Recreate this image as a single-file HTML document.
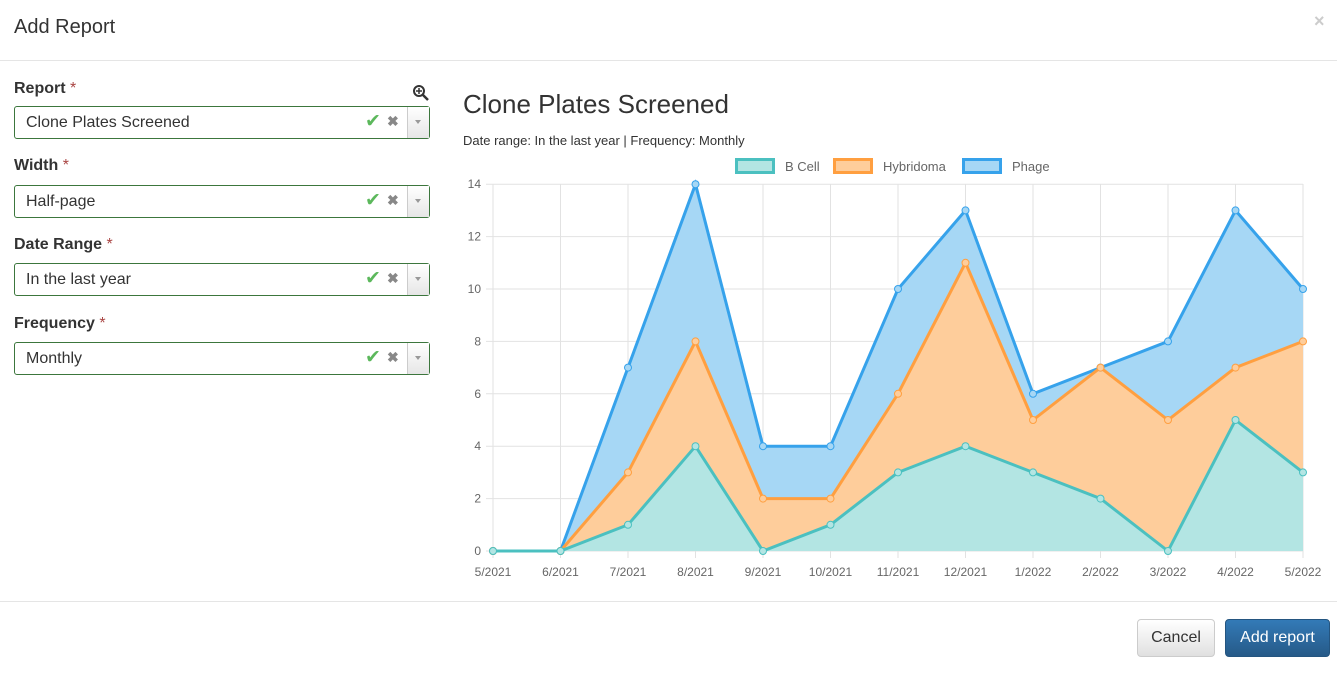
<!DOCTYPE html>
<html><head><meta charset="utf-8"><style>
body{margin:0;width:1337px;height:674px;background:#fff;font-family:"Liberation Sans",sans-serif;color:#333;position:relative;overflow:hidden}
.abs{position:absolute}
.lbl{font-weight:bold;font-size:16px;color:#333}
.lbl span{color:#a94442;font-weight:normal}
.sel{position:absolute;left:14px;width:414px;height:31px;border:1px solid #3c763d;border-radius:3px;background:#fff;font-size:16px}
.sel .t{position:absolute;left:11px;top:7px;color:#333}
.sel .ck{position:absolute;left:350px;top:3px;color:#5cb85c;font-size:19px}
.sel .x{position:absolute;left:372px;top:6px;color:#888;font-size:14px;font-weight:bold}
.sel .dd{position:absolute;right:0;top:0;width:21px;height:31px;border-left:1px solid #ccc;background:linear-gradient(#fff,#e6e6e6)}
.sel .dd:after{content:"";position:absolute;left:7px;top:13px;border-left:3px solid transparent;border-right:3px solid transparent;border-top:4px solid #999}
</style></head><body>
<div class="abs" style="left:14px;top:16px;font-size:20px;color:#333">Add Report</div>
<div class="abs" style="left:1314px;top:11px;font-size:18px;color:#ccc;font-weight:bold">×</div>
<div class="abs" style="left:0;top:60px;width:1337px;height:1px;background:#e5e5e5"></div>

<div class="abs lbl" style="left:14px;top:80px">Report <span>*</span></div>
<svg class="abs" style="left:412px;top:84px" width="18" height="18"><circle cx="7" cy="7" r="5" fill="none" stroke="#333" stroke-width="2"/><line x1="11" y1="11" x2="16" y2="16" stroke="#333" stroke-width="2.5"/><line x1="4" y1="7" x2="10" y2="7" stroke="#333" stroke-width="1.5"/><line x1="7" y1="4" x2="7" y2="10" stroke="#333" stroke-width="1.5"/></svg>
<div class="sel" style="top:106px"><div class="t">Clone Plates Screened</div><div class="ck">✔</div><div class="x">✖</div><div class="dd"></div></div>
<div class="abs lbl" style="left:14px;top:157px">Width <span>*</span></div>
<div class="sel" style="top:185px"><div class="t">Half-page</div><div class="ck">✔</div><div class="x">✖</div><div class="dd"></div></div>
<div class="abs lbl" style="left:14px;top:236px">Date Range <span>*</span></div>
<div class="sel" style="top:263px"><div class="t">In the last year</div><div class="ck">✔</div><div class="x">✖</div><div class="dd"></div></div>
<div class="abs lbl" style="left:14px;top:315px">Frequency <span>*</span></div>
<div class="sel" style="top:342px"><div class="t">Monthly</div><div class="ck">✔</div><div class="x">✖</div><div class="dd"></div></div>

<div class="abs" style="left:463px;top:89px;font-size:26px;color:#333">Clone Plates Screened</div>
<div class="abs" style="left:463px;top:133px;font-size:13px;color:#333">Date range: In the last year | Frequency: Monthly</div>

<svg id="ch" class="abs" style="left:0;top:0" width="1337" height="600"></svg>

<div class="abs" style="left:0;top:601px;width:1337px;height:1px;background:#e5e5e5"></div>
<div class="abs" style="left:1137px;top:619px;width:76px;height:36px;border:1px solid #ccc;border-radius:4px;background:linear-gradient(#fff,#e0e0e0);font-size:16px;text-align:center;line-height:36px;color:#333">Cancel</div>
<div class="abs" style="left:1225px;top:619px;width:103px;height:36px;border:1px solid #245580;border-radius:4px;background:linear-gradient(#337ab7,#265a88);font-size:16px;text-align:center;line-height:36px;color:#fff">Add report</div>

<script>
var s='',X=i=>493+i*67.5,Y=v=>551-v*26.2;
for(var v=0;v<=14;v+=2){s+=`<line x1="486" x2="1303" y1="${Y(v)}" y2="${Y(v)}" stroke="#e2e2e2"/><text x="481" y="${Y(v)+4}" font-size="12" text-anchor="end" fill="#666" font-family="Liberation Sans">${v}</text>`;}
var lab=["5/2021","6/2021","7/2021","8/2021","9/2021","10/2021","11/2021","12/2021","1/2022","2/2022","3/2022","4/2022","5/2022"];
for(var i=0;i<13;i++){s+=`<line x1="${X(i)}" x2="${X(i)}" y1="184" y2="558" stroke="#e2e2e2"/><text x="${X(i)}" y="576" font-size="12" text-anchor="middle" fill="#666" font-family="Liberation Sans">${lab[i]}</text>`;}
var b=[0,0,1,4,0,1,3,4,3,2,0,5,3],h=[0,0,3,8,2,2,6,11,5,7,5,7,8],p=[0,0,7,14,4,4,10,13,6,7,8,13,10];
function pts(a){return a.map((v,i)=>X(i)+','+Y(v)).join(' ');}
function rev(a){return a.map((v,i)=>X(i)+','+Y(v)).reverse().join(' ');}
s+=`<polygon points="${pts(p)} ${rev(h)}" fill="#a6d7f5"/>`;
s+=`<polygon points="${pts(h)} ${rev(b)}" fill="#fecd9b"/>`;
s+=`<polygon points="${pts(b)} ${X(12)},551 ${X(0)},551" fill="#b3e5e3"/>`;
[[p,'#36a2eb','#a6d7f5'],[h,'#ff9f40','#fecd9b'],[b,'#4bc0c0','#b3e5e3']].forEach(function(d){
s+=`<polyline points="${pts(d[0])}" fill="none" stroke="${d[1]}" stroke-width="3"/>`;
d[0].forEach((v,i)=>{s+=`<circle cx="${X(i)}" cy="${Y(v)}" r="3.5" fill="${d[2]}" stroke="${d[1]}" stroke-width="1"/>`;});});
var lg=[[735,'#4bc0c0','#b3e5e3','B Cell'],[833,'#ff9f40','#fecd9b','Hybridoma'],[962,'#36a2eb','#a6d7f5','Phage']];
lg.forEach(l=>{s+=`<rect x="${l[0]+1.5}" y="159.5" width="37" height="13" fill="${l[2]}" stroke="${l[1]}" stroke-width="3"/><text x="${l[0]+50}" y="171" font-size="13" fill="#666" font-family="Liberation Sans">${l[3]}</text>`;});
document.getElementById('ch').innerHTML=s;
</script>
</body></html>
